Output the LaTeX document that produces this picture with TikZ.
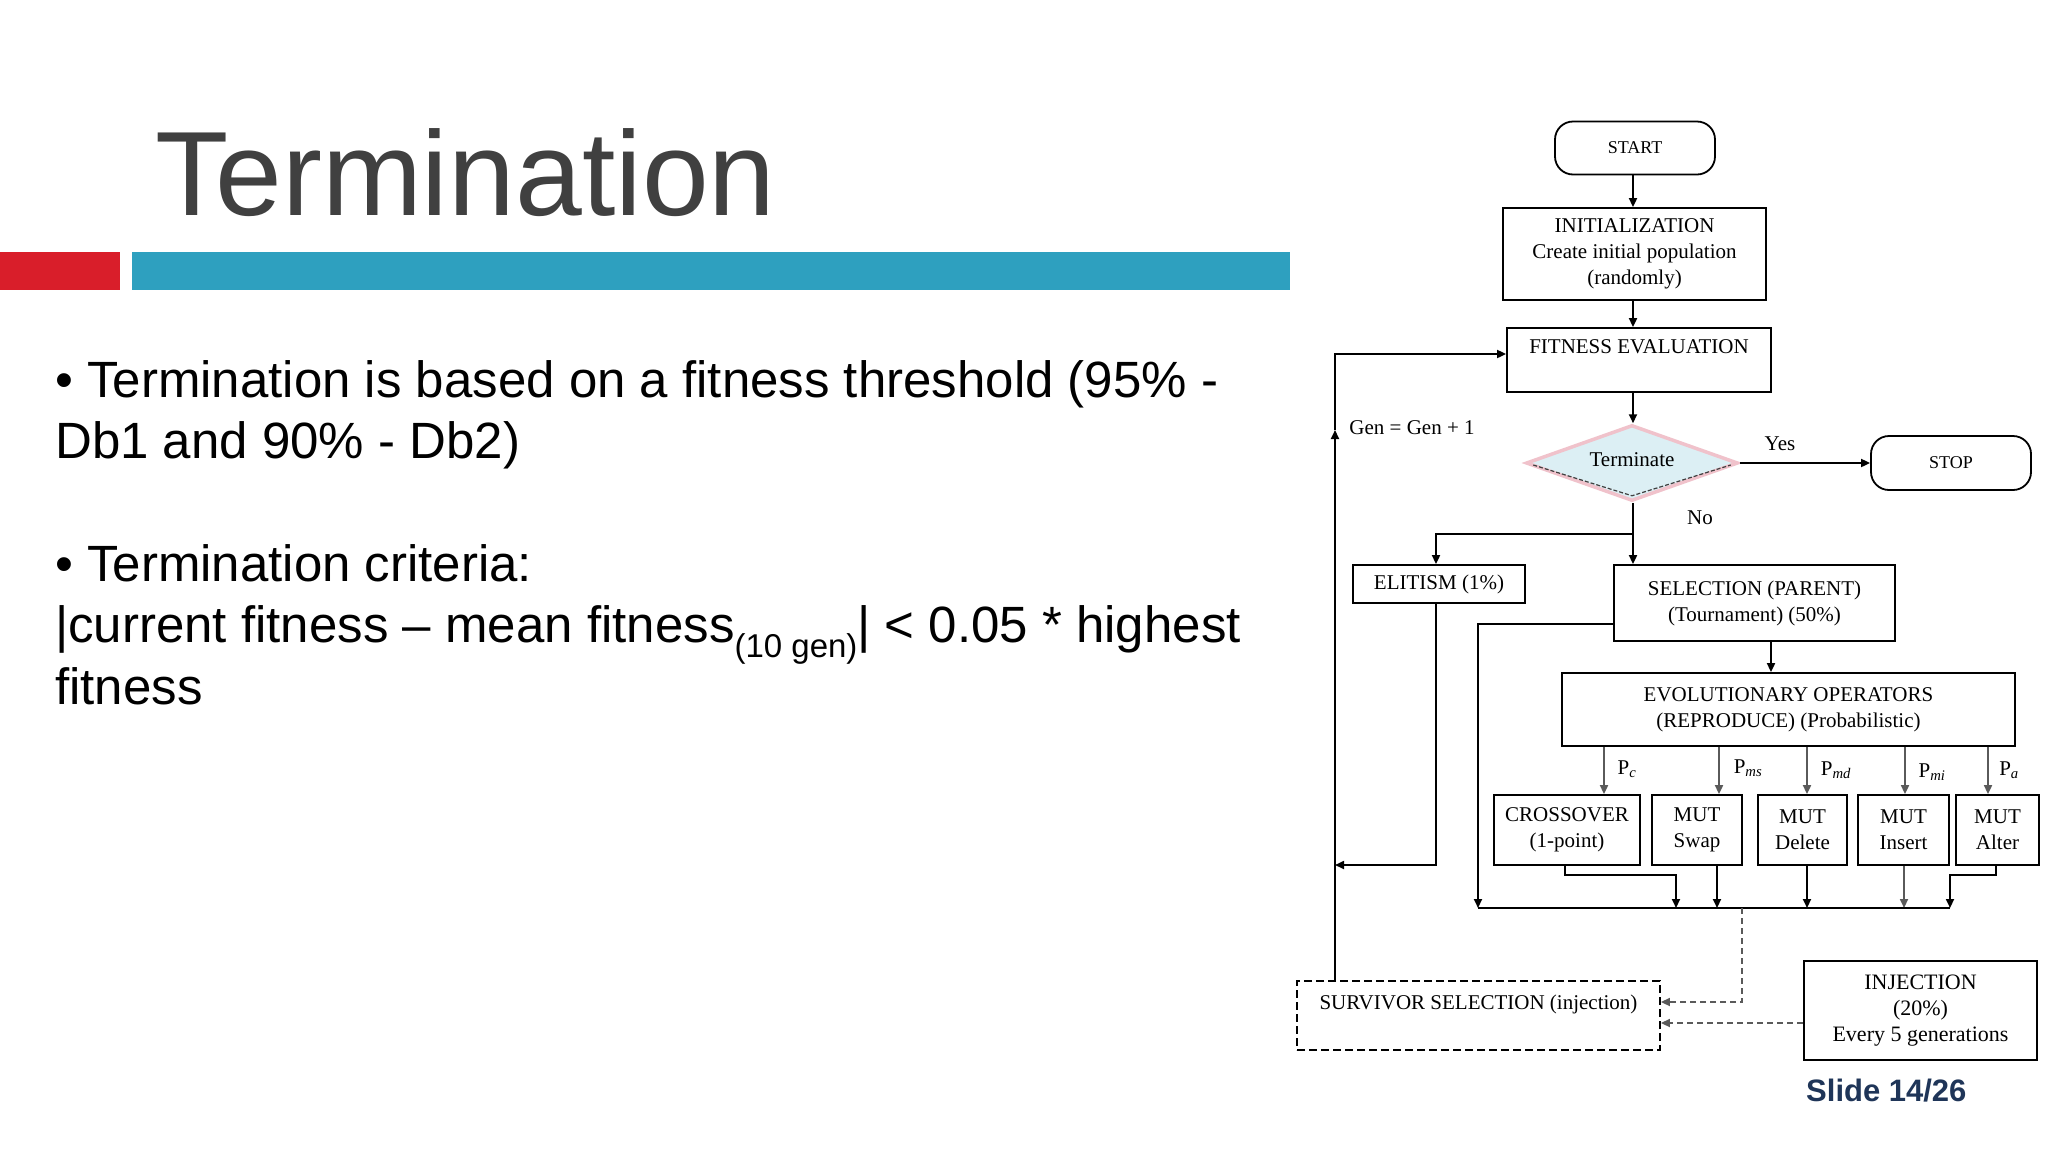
\documentclass[tikz,border=0pt]{standalone}
\usepackage{fontspec}
\setmainfont{Liberation Sans}
\newfontfamily\fcfont{Liberation Serif}
\usetikzlibrary{shapes.geometric,arrows.meta}
\definecolor{titlegray}{HTML}{404040}
\definecolor{barred}{HTML}{D91E2A}
\definecolor{barblue}{HTML}{2EA0BF}
\definecolor{slidenavy}{HTML}{1F3558}
\definecolor{diafill}{HTML}{DCEFF4}
\definecolor{diaedge}{HTML}{F0C2CB}
\definecolor{lgray}{HTML}{5A5A5A}
\begin{document}
\begin{tikzpicture}[x=1pt,y=-1pt,
  fcf/.style={font=\fcfont\fontsize{21}{26}\selectfont},
  fbox/.style={fcf, draw=black, line width=1.8pt, rectangle, inner sep=0pt, align=center},
  term/.style={fbox, rounded corners=18pt, font=\fcfont\fontsize{18}{22}\selectfont},
  conn/.style={line width=1.8pt, draw=black},
  arr/.style={conn, -{Triangle[length=9pt,width=8pt]}},
  garr/.style={arr, draw=lgray},
  darr/.style={line width=1.6pt, draw=lgray, dash pattern=on 6pt off 4pt, -{Triangle[length=9pt,width=8pt]}},
  lbl/.style={fcf, inner sep=0pt},
  body/.style={anchor=base west, inner sep=0pt, font=\fontsize{51}{61}\selectfont}
]
\fill[white] (0,0) rectangle (2048,1152);
\useasboundingbox (0,0) rectangle (2048,1152);

% Title and bars
\node[anchor=base west, inner sep=0pt, text=titlegray, font=\fontsize{120}{120}\selectfont] (title) at (155,215) {Termination};
\fill[barred] (0,252) rectangle (120,290);
\fill[barblue] (132,252) rectangle (1290,290);

% Body text
\node[body] (b1a) at (55,397) {• Termination is based on a fitness threshold (95\% -};
\node[body] (b1b) at (55,458) {Db1 and 90\% - Db2)};
\node[body] (b2a) at (55,581) {• Termination criteria:};
\node[body] (b2b) at (55,642) {|current fitness – mean fitness\raisebox{-0.3em}{\fontsize{33}{33}\selectfont(10 gen)}| < 0.05 * highest};
\node[body] (b2c) at (55,704) {fitness};

% Slide number
\node[anchor=base west, inner sep=0pt, text=slidenavy, font=\bfseries\fontsize{31}{31}\selectfont] (slide) at (1806,1101) {Slide 14/26};

% Flowchart nodes
\node[term, minimum width=160pt, minimum height=53pt] (start) at (1635,148) {START};
\node[fbox, minimum width=263pt, minimum height=92pt] (init) at (1634.5,254) {INITIALIZATION\\Create initial population\\(randomly)};
\node[fbox, minimum width=264pt, minimum height=64pt] (fe) at (1639,360) {FITNESS EVALUATION\\\mbox{}};
\node[diamond, shape aspect=2.7, draw=diaedge, fill=diafill, line width=3.5pt, minimum width=212pt, minimum height=76pt, inner sep=0pt, fcf] (dec) at (1632,463) {\raisebox{7pt}{Terminate}};
\draw[line width=1.2pt, draw=black!75, dash pattern=on 4pt off 2pt] ([shift={(9,2)}]dec.west) -- ([shift={(0,-7)}]dec.south) -- ([shift={(-9,2)}]dec.east);
\node[term, minimum width=160pt, minimum height=54pt] (stop) at (1951,463) {STOP};
\node[fbox, minimum width=172pt, minimum height=38pt] (elit) at (1439,584) {ELITISM (1\%)};
\node[fbox, minimum width=281pt, minimum height=76pt] (sel) at (1754.5,603) {SELECTION (PARENT)\\(Tournament) (50\%)};
\node[fbox, minimum width=453pt, minimum height=73pt] (evo) at (1788.5,709.5) {EVOLUTIONARY OPERATORS\\(REPRODUCE) (Probabilistic)};
\node[fbox, minimum width=146pt, minimum height=70pt] (cross) at (1567,830) {CROSSOVER\\(1-point)};
\node[fbox, minimum width=90pt, minimum height=70pt] (swap) at (1697,830) {MUT\\Swap};
\node[fbox, minimum width=89pt, minimum height=70pt] (del) at (1802.5,830) {MUT\\Delete};
\node[fbox, minimum width=91pt, minimum height=70pt] (ins) at (1903.5,830) {MUT\\Insert};
\node[fbox, minimum width=83pt, minimum height=70pt] (alt) at (1997.5,830) {MUT\\Alter};
\node[fbox, dash pattern=on 8pt off 4pt, minimum width=363pt, minimum height=69pt] (surv) at (1478.5,1015.5) {SURVIVOR SELECTION (injection)\\\mbox{}};
\node[fbox, line width=2.2pt, minimum width=233pt, minimum height=99pt, font=\fcfont\fontsize{22}{26}\selectfont] (inj) at (1920.5,1010.5) {INJECTION\\(20\%)\\Every 5 generations};

% Labels
\node[lbl] (gen) at (1412,428) {Gen = Gen + 1};
\node[lbl] (yes) at (1780,444) {Yes};
\node[lbl] (no) at (1700,518) {No};
\node[lbl] (pc) at (1627,769) {P\textsubscript{\itshape c}};
\node[lbl] (pms) at (1748,768) {P\textsubscript{\itshape ms}};
\node[lbl] (pmd) at (1836,770) {P\textsubscript{\itshape md}};
\node[lbl] (pmi) at (1932,772) {P\textsubscript{\itshape mi}};
\node[lbl] (pa) at (2009,770) {P\textsubscript{\itshape a}};

% Helper coordinates
\coordinate (ax) at (1633,0);
\coordinate (split) at (1633,534);
\coordinate (sx) at (1771,0);
\coordinate (sy) at (0,624);
\coordinate (busL) at (1478,908);
\coordinate (busR) at (1950,908);
\coordinate (cx1) at (1565,875);
\coordinate (b1) at (1676,908);
\coordinate (b2) at (1717,908);
\coordinate (b3) at (1807,908);
\coordinate (b4) at (1904,908);
\coordinate (ax5) at (1996,875);
\coordinate (e1) at (1604,0);
\coordinate (e2) at (1719,0);
\coordinate (e3) at (1807,0);
\coordinate (e4) at (1905,0);
\coordinate (e5) at (1988,0);
\coordinate (dx) at (1742,1002);
\coordinate (iy) at (0,1023);
\coordinate (lx) at (1335,0);
\coordinate (ly) at (0,430);
\coordinate (fy) at (0,354);
\coordinate (ex) at (1436,0);
\coordinate (ey) at (0,865);

% Connectors
\draw[arr] (start.south -| ax) -- (init.north -| ax);
\draw[arr] (init.south -| ax) -- (fe.north -| ax);
\draw[arr] (fe.south -| ax) -- (dec.north -| ax);
\draw[arr] (dec.east) -- (stop.west);
\draw[conn] (dec.south -| ax) -- (split);
\draw[arr] (split) -- (sel.north -| ax);
\draw[arr] (split) -| (elit.north -| ex);
\draw[arr] (sel.south -| sx) -- (evo.north -| sx);
\draw[arr] (sel.west |- sy) -| (busL);
\draw[garr] (evo.south -| e1) -- (cross.north -| e1);
\draw[garr] (evo.south -| e2) -- (swap.north -| e2);
\draw[garr] (evo.south -| e3) -- (del.north -| e3);
\draw[garr] (evo.south -| e4) -- (ins.north -| e4);
\draw[garr] (evo.south -| e5) -- (alt.north -| e5);
\draw[arr] (cross.south -| cx1) -- (cx1) -| (b1);
\draw[arr] (swap.south -| b2) -- (b2);
\draw[arr] (del.south -| b3) -- (b3);
\draw[garr] (ins.south -| b4) -- (b4);
\draw[arr] (alt.south -| ax5) -- (ax5) -| (busR);
\draw[conn] (busL) -- (busR);
\draw[darr] (busL -| dx) -- (dx) -- (surv.east |- dx);
\draw[darr] (inj.west |- iy) -- (surv.east |- iy);
\draw[arr] (surv.north -| lx) -- (lx |- ly);
\draw[arr] (lx |- ly) |- (fe.west |- fy);
\draw[arr] (elit.south -| ex) |- (lx |- ey);
\end{tikzpicture}
\end{document}
